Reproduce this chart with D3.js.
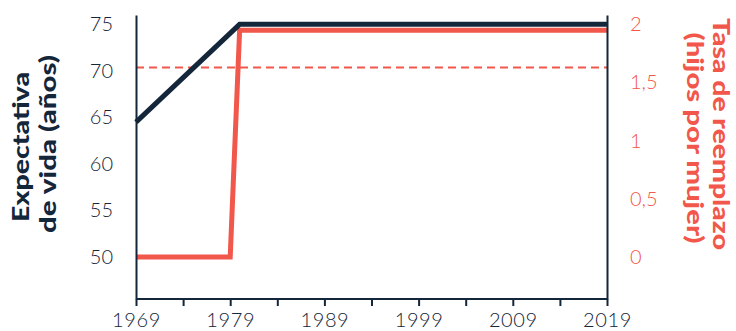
<!DOCTYPE html>
<html><head><meta charset="utf-8">
<script src="https://cdn.jsdelivr.net/npm/d3@7"></script>
<style>body{margin:0;background:#fff}svg{display:block}</style>
</head><body>
<svg id="c" width="736" height="331"></svg>
<script>
const lifeYears = [1969, 1980, 2019];
const lifeValues = [64.5, 75, 75];
const fertYears = [1969, 1979, 1980, 2019];
const fertValues = [0, 0, 1.95, 1.95];
const replacementLevel = 1.63;
const xTicks = [1969, 1974, 1979, 1984, 1989, 1994, 1999, 2004, 2009, 2014, 2019];
const xLabels = [1969, 1979, 1989, 1999, 2009, 2019];
const leftTicks = [50, 55, 60, 65, 70, 75];
const rightTicks = [0, 0.5, 1, 1.5, 2];

const NAVY = "#14263a", RED = "#f1574a";
const svg = d3.select("#c");
const x = d3.scaleLinear().domain([1969, 2019]).range([136, 607]);
const yL = d3.scaleLinear().domain([45.5, 76]).range([299, 15]);
const yR = d3.scaleLinear().domain([-0.36, 2.08]).range([299, 15]);

const font = "Lato, 'Open Sans', sans-serif";

// dashed replacement line
svg.append("line")
  .attr("x1", x(1969)).attr("x2", x(2019))
  .attr("y1", yR(replacementLevel)).attr("y2", yR(replacementLevel))
  .attr("stroke", RED).attr("stroke-width", 2).attr("stroke-dasharray", "8,5");

// fertility line
const fertLine = d3.line().x((d, i) => x(fertYears[i])).y(d => yR(d));
svg.append("path").attr("d", fertLine(fertValues))
  .attr("fill", "none").attr("stroke", RED).attr("stroke-width", 5);

// life expectancy line
const lifeLine = d3.line().x((d, i) => x(lifeYears[i])).y(d => yL(d));
svg.append("path").attr("d", lifeLine(lifeValues))
  .attr("fill", "none").attr("stroke", NAVY).attr("stroke-width", 5);

// axes
const xAxis = d3.axisBottom(x).tickValues(xTicks).tickSize(7)
  .tickFormat(d => xLabels.includes(d) ? d : "");
const gx = svg.append("g").attr("transform", "translate(0,299)").call(xAxis);
gx.select(".domain").attr("stroke", NAVY).attr("stroke-width", 2).attr("d", `M${x(1969)},0H${x(2019)}`);
gx.selectAll(".tick line").attr("stroke", NAVY).attr("stroke-width", 2);
gx.selectAll(".tick text").attr("fill", NAVY).attr("font-family", font)
  .attr("font-weight", 300).attr("font-size", 20).attr("dy", 0).attr("y", 28)
  .attr("letter-spacing", 0.6);

const gl = svg.append("g").attr("transform", `translate(${x(1969)},0)`)
  .call(d3.axisLeft(yL).tickValues(leftTicks).tickSize(0).tickPadding(23));
gl.select(".domain").attr("stroke", NAVY).attr("stroke-width", 2);
gl.selectAll(".tick text").attr("fill", NAVY).attr("font-family", font)
  .attr("font-weight", 300).attr("font-size", 20);

const gr = svg.append("g").attr("transform", `translate(${x(2019)},0)`)
  .call(d3.axisRight(yR).tickValues(rightTicks).tickSize(0).tickPadding(23)
    .tickFormat(d => String(d).replace(".", ",")));
gr.select(".domain").attr("stroke", NAVY).attr("stroke-width", 2);
gr.selectAll(".tick text").attr("fill", RED).attr("font-family", font)
  .attr("font-weight", 300).attr("font-size", 20);

// axis titles
const lt = svg.append("text").attr("transform", "rotate(-90)")
  .attr("text-anchor", "middle").attr("fill", NAVY).attr("font-family", font)
  .attr("font-weight", 900).attr("font-size", 22);
lt.append("tspan").attr("x", -147).attr("y", 29)
  .attr("textLength", 150).attr("lengthAdjust", "spacingAndGlyphs").text("Expectativa");
lt.append("tspan").attr("x", -144).attr("y", 56)
  .attr("textLength", 178).attr("lengthAdjust", "spacingAndGlyphs").text("de vida (años)");

const rt = svg.append("text").attr("transform", "rotate(90)")
  .attr("text-anchor", "middle").attr("fill", RED).attr("font-family", font)
  .attr("font-weight", 900).attr("font-size", 22);
rt.append("tspan").attr("x", 134).attr("y", -713)
  .attr("textLength", 232).attr("lengthAdjust", "spacingAndGlyphs").text("Tasa de reemplazo");
rt.append("tspan").attr("x", 138).attr("y", -687)
  .attr("textLength", 211).attr("lengthAdjust", "spacingAndGlyphs").text("(hijos por mujer)");
</script>
</body></html>
